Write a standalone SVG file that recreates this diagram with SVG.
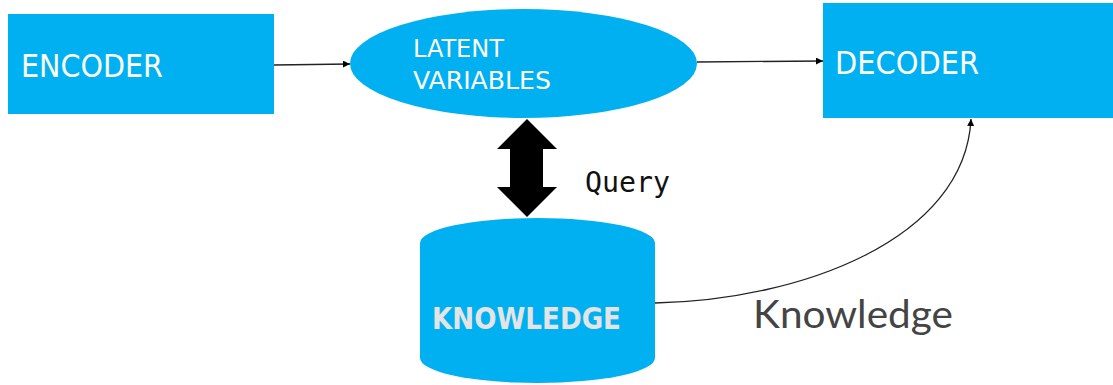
<svg xmlns="http://www.w3.org/2000/svg" width="1113" height="385" viewBox="0 0 1113 385">
<style>
.node{fill:#00b0f0}
.lbl{font-family:"DejaVu Sans Condensed","DejaVu Sans",sans-serif;fill:#ffffff}
.conn{fill:none;stroke:#222;stroke-width:1.3}
</style>
<defs>
<marker id="ah" viewBox="0 0 10 10" refX="10" refY="5" markerWidth="7" markerHeight="7" markerUnits="userSpaceOnUse" orient="auto">
<path d="M0,0 L10,5 L0,10 z" fill="#000"/>
</marker>
</defs>
<rect width="1113" height="385" fill="#fff"/>
<g id="encoder">
<rect class="node" x="8" y="14" width="266" height="100"/>
<text class="lbl" x="21" y="77" font-size="32" textLength="142" lengthAdjust="spacingAndGlyphs">ENCODER</text>
</g>
<g id="latent">
<ellipse class="node" cx="523.5" cy="63.5" rx="173.5" ry="54.5"/>
<text class="lbl" x="413" y="57" font-size="25" textLength="91" lengthAdjust="spacingAndGlyphs">LATENT</text>
<text class="lbl" x="413" y="89" font-size="25" textLength="138" lengthAdjust="spacingAndGlyphs">VARIABLES</text>
</g>
<g id="decoder">
<rect class="node" x="823" y="3" width="290" height="115"/>
<text class="lbl" x="835" y="74" font-size="32" textLength="144" lengthAdjust="spacingAndGlyphs">DECODER</text>
</g>
<g id="knowledge">
<path class="node" d="M420,243 A117.5,25 0 0 1 655,243 L655,358 A117.5,25 0 0 1 420,358 Z"/>
<text x="432" y="329" font-family="DejaVu Sans Condensed, DejaVu Sans, sans-serif" font-weight="bold" font-size="30" fill="#e4e4e4" textLength="189" lengthAdjust="spacingAndGlyphs">KNOWLEDGE</text>
</g>
<g id="connectors">
<line class="conn" x1="274" y1="65" x2="350" y2="64" marker-end="url(#ah)"/>
<line class="conn" x1="697" y1="62" x2="823" y2="61" marker-end="url(#ah)"/>
<path class="conn" d="M655,303 C800,300 965,240 971,119" marker-end="url(#ah)"/>
<path d="M527,119 L557,149 L543,149 L543,187 L557,187 L527,217 L497,187 L510,187 L510,149 L497,149 Z" fill="#000"/>
</g>
<text x="585" y="192" font-family="DejaVu Sans Mono, monospace" font-size="28" fill="#111" textLength="85" lengthAdjust="spacingAndGlyphs">Query</text>
<text x="753" y="328" font-family="Lato, sans-serif" font-size="38" fill="#444" textLength="200" lengthAdjust="spacingAndGlyphs">Knowledge</text>
</svg>
